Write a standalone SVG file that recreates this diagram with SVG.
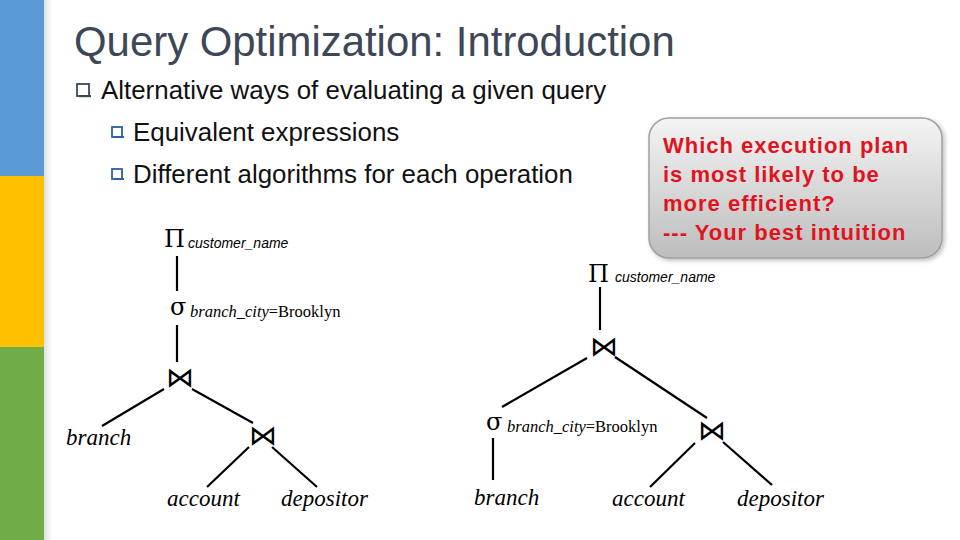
<svg xmlns="http://www.w3.org/2000/svg" width="960" height="540" viewBox="0 0 960 540">
<defs>
<linearGradient id="fade" x1="0" y1="0" x2="1" y2="0">
<stop offset="0" stop-color="#000" stop-opacity="0.12"/>
<stop offset="1" stop-color="#000" stop-opacity="0"/>
</linearGradient>
<linearGradient id="boxg" x1="0" y1="0" x2="0" y2="1">
<stop offset="0" stop-color="#f4f4f4"/>
<stop offset="1" stop-color="#bdbdbd"/>
</linearGradient>
<filter id="sh" x="-10%" y="-10%" width="130%" height="130%">
<feDropShadow dx="2" dy="2" stdDeviation="2" flood-color="#000" flood-opacity="0.25"/>
</filter>
<style>
.title{font-family:"Liberation Sans",Arial,sans-serif;font-size:41.9px;fill:#3d4757}
.b1{font-family:"Liberation Sans",Arial,sans-serif;font-size:25.9px;fill:#111}
.b2{font-family:"Liberation Sans",Arial,sans-serif;font-size:25.9px;fill:#111}
.call{font-family:"Liberation Sans",Arial,sans-serif;font-size:22px;font-weight:bold;fill:#e0141e;letter-spacing:1px}
.rel{font-family:"Liberation Serif","Times New Roman",serif;font-style:italic;font-size:23px;fill:#000}
.op{font-family:"DejaVu Serif","Liberation Serif",serif;font-size:24px;fill:#000}
.join{font-family:"DejaVu Sans",sans-serif;font-size:28px;fill:#000}
.sub{font-family:"Liberation Sans",Arial,sans-serif;font-style:italic;font-size:14px;fill:#000}
.subs{font-family:"Liberation Serif","Times New Roman",serif;font-size:16.5px;fill:#000}
.subs .it{font-style:italic}
.edge{stroke:#000;stroke-width:2.2;fill:none}
</style>
</defs>
<rect width="960" height="540" fill="#fff"/>
<!-- side bar -->
<rect x="0" y="0" width="44" height="176" fill="#5b9bd5"/>
<rect x="0" y="176" width="44" height="171" fill="#ffc000"/>
<rect x="0" y="347" width="44" height="193" fill="#70ad47"/>
<rect x="44" y="0" width="8" height="540" fill="url(#fade)"/>

<text class="title" x="74" y="56">Query Optimization: Introduction</text>

<g id="bullets">
<rect x="77" y="84" width="12" height="12" fill="#fff" stroke="#3d4757" stroke-width="1.8"/>
<rect x="79" y="95" width="12" height="2.2" fill="#3d4757"/>
<text class="b1" x="101" y="99">Alternative ways of evaluating a given query</text>
<rect x="112" y="127" width="10" height="10" fill="#fff" stroke="#2e5fa8" stroke-width="1.8"/>
<rect x="114" y="136" width="10" height="2" fill="#2e5fa8"/>
<text class="b2" x="133" y="141">Equivalent expressions</text>
<rect x="112" y="169" width="10" height="10" fill="#fff" stroke="#2e5fa8" stroke-width="1.8"/>
<rect x="114" y="178" width="10" height="2" fill="#2e5fa8"/>
<text class="b2" x="133" y="183">Different algorithms for each operation</text>
</g>

<g id="callout">
<rect x="649" y="118" width="293" height="140" rx="20" fill="url(#boxg)" stroke="#a0a0a0" stroke-width="1.5" filter="url(#sh)"/>
<text class="call" x="663" y="153">Which execution plan</text>
<text class="call" x="663" y="182">is most likely to be</text>
<text class="call" x="663" y="211">more efficient?</text>
<text class="call" x="663" y="240">--- Your best intuition</text>
</g>

<g id="connectors">
<line class="edge" x1="177" y1="256" x2="177" y2="291"/>
<line class="edge" x1="177" y1="325" x2="177" y2="362"/>
<line class="edge" x1="164" y1="389" x2="102" y2="426"/>
<line class="edge" x1="192" y1="389" x2="253" y2="423"/>
<line class="edge" x1="249" y1="447" x2="207" y2="487"/>
<line class="edge" x1="272" y1="447" x2="317" y2="487"/>
<line class="edge" x1="600" y1="287" x2="600" y2="330"/>
<line class="edge" x1="587" y1="358" x2="502" y2="407"/>
<line class="edge" x1="615" y1="357" x2="707" y2="418"/>
<line class="edge" x1="493" y1="438" x2="493" y2="480"/>
<line class="edge" x1="695" y1="443" x2="650" y2="487"/>
<line class="edge" x1="723" y1="442" x2="772" y2="485"/>
</g>

<g id="L-proj"><text class="op" x="164" y="247">Π</text><text class="sub" x="188" y="248">customer_name</text></g>
<g id="L-sel"><text class="op" x="170" y="315">σ</text><text class="subs" x="190" y="317"><tspan class="it">branch_city</tspan>=Brooklyn</text></g>
<g id="L-join1"><text class="join" x="166" y="387">⋈</text></g>
<g id="L-branch"><text class="rel" x="66" y="445">branch</text></g>
<g id="L-join2"><text class="join" x="249" y="445">⋈</text></g>
<g id="L-account"><text class="rel" x="167" y="506">account</text></g>
<g id="L-depositor"><text class="rel" x="281" y="506">depositor</text></g>

<g id="R-proj"><text class="op" x="588" y="282">Π</text><text class="sub" x="615" y="282">customer_name</text></g>
<g id="R-join1"><text class="join" x="590" y="356">⋈</text></g>
<g id="R-sel"><text class="op" x="486" y="430">σ</text><text class="subs" x="507" y="432"><tspan class="it">branch_city</tspan>=Brooklyn</text></g>
<g id="R-branch"><text class="rel" x="474" y="505">branch</text></g>
<g id="R-join2"><text class="join" x="698" y="440">⋈</text></g>
<g id="R-account"><text class="rel" x="612" y="506">account</text></g>
<g id="R-depositor"><text class="rel" x="737" y="506">depositor</text></g>
</svg>
